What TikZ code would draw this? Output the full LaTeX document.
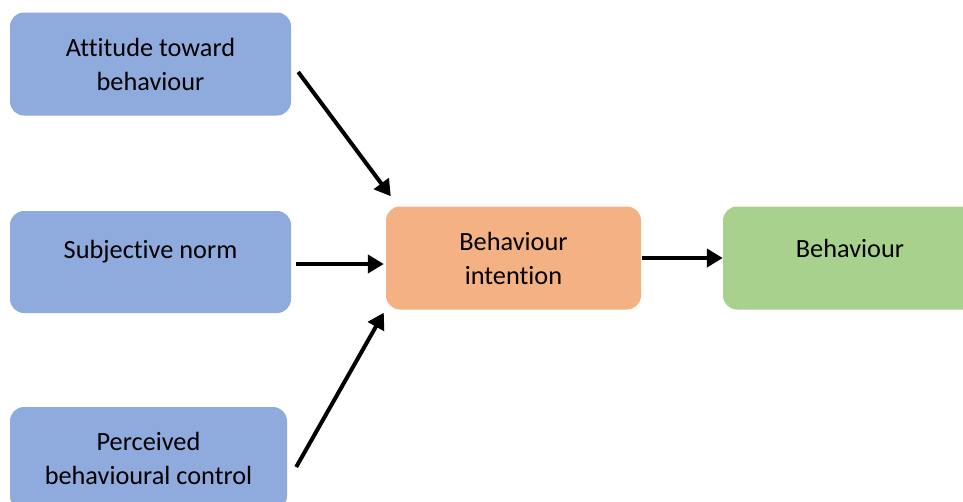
\documentclass[tikz,border=0pt]{standalone}
\usepackage{fontspec}
\setmainfont{Carlito}[Ligatures={NoCommon}]
\usetikzlibrary{arrows.meta,calc}
\definecolor{boxblue}{HTML}{8FAADC}
\definecolor{boxorange}{HTML}{F4B183}
\definecolor{boxgreen}{HTML}{A9D18E}
\begin{document}
\begin{tikzpicture}[x=1pt,y=-1pt,
  box/.style={rounded corners=14pt, draw=none, align=center, inner sep=0pt,
    font=\fontsize{26.3}{34}\selectfont},
  conn/.style={line width=4pt, -{Triangle[length=16pt,width=18pt]}}]
\useasboundingbox (0,0) rectangle (963,501);
\node[box, fill=boxblue, minimum width=281pt, minimum height=103pt] (att) at (150.5,64) {Attitude toward\\behaviour};
\node[box, fill=boxblue, minimum width=281pt, minimum height=102pt] (sub) at (150.5,262) {\raisebox{10pt}[\height][\depth]{Subjective norm}};
\node[box, fill=boxblue, minimum width=277pt, minimum height=103pt] (per) at (148.5,458.5) {Perceived\\behavioural control};
\node[box, fill=boxorange, minimum width=255pt, minimum height=103pt] (bi) at (513.5,258) {Behaviour\\intention};
\node[box, fill=boxgreen, minimum width=254pt, minimum height=103pt] (beh) at (850,258) {\raisebox{10pt}[\height][\depth]{Behaviour}};
\draw[conn] ([shift={(7,8)}]att.east) -- ([shift={(5,-10)}]bi.north west);
\draw[conn] ([shift={(5,2)}]sub.east) -- ([shift={(-2,6)}]bi.west);
\draw[conn] ([shift={(9,8.5)}]per.east) -- ([shift={(-2,3)}]bi.south west);
\draw[conn] ([shift={(1,0)}]bi.east) -- (beh.west);
\end{tikzpicture}
\end{document}
